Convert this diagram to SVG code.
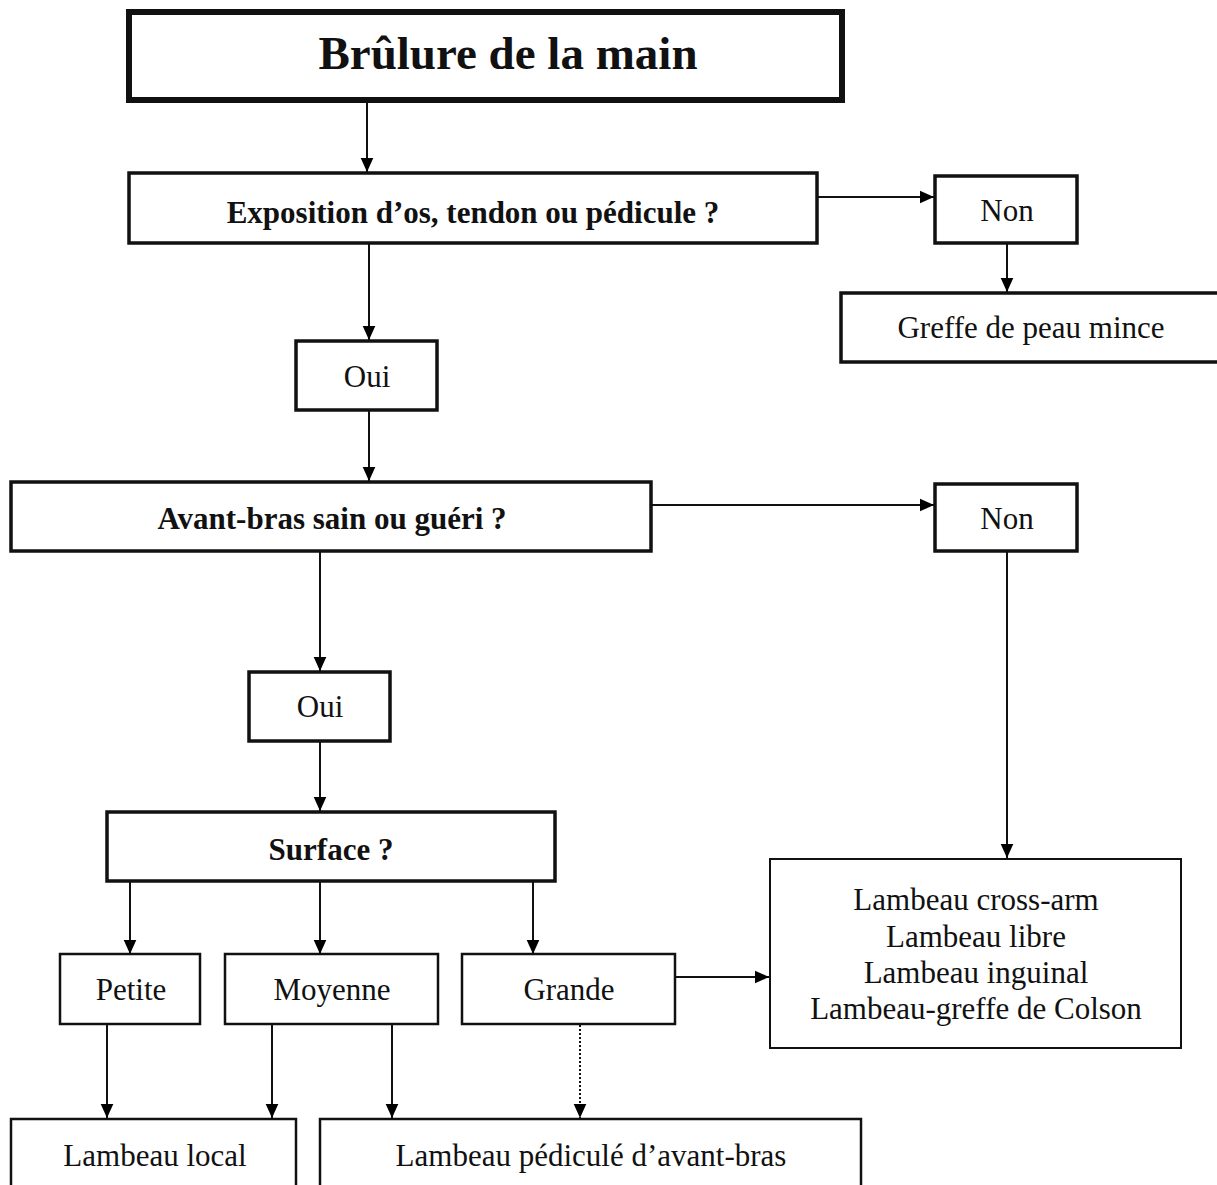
<svg xmlns="http://www.w3.org/2000/svg" width="1217" height="1185" viewBox="0 0 1217 1185">
<defs>
<marker id="ah" viewBox="0 0 10 10" refX="10" refY="5" markerWidth="14" markerHeight="14" markerUnits="userSpaceOnUse" orient="auto">
<path d="M0,0.5 L10,5 L0,9.5 Z" fill="#000"/>
</marker>
<style>
.box{fill:#fff;stroke:#111;stroke-width:2.5}
.b3{stroke-width:3.5}
.b5{stroke-width:6}
.b2{stroke-width:2}
.t{font-family:"Liberation Serif","Times New Roman",serif;font-size:31px;fill:#111;text-anchor:middle}
.tb{font-family:"Liberation Serif","Times New Roman",serif;font-size:31px;font-weight:bold;fill:#111;text-anchor:middle}
.ln{fill:none;stroke:#111;stroke-width:2}
.dot{fill:none;stroke:#111;stroke-width:2;stroke-dasharray:2 2}
</style>
</defs>
<rect width="1217" height="1185" fill="#fff"/>
<g id="connectors">
<line class="ln" x1="367" y1="102" x2="367" y2="172" marker-end="url(#ah)"/>
<line class="ln" x1="818" y1="197" x2="934" y2="197" marker-end="url(#ah)"/>
<line class="ln" x1="1007" y1="243" x2="1007" y2="292" marker-end="url(#ah)"/>
<line class="ln" x1="369" y1="243" x2="369" y2="340" marker-end="url(#ah)"/>
<line class="ln" x1="369" y1="410" x2="369" y2="481" marker-end="url(#ah)"/>
<line class="ln" x1="652" y1="505" x2="934" y2="505" marker-end="url(#ah)"/>
<line class="ln" x1="1007" y1="551" x2="1007" y2="858" marker-end="url(#ah)"/>
<line class="ln" x1="320" y1="551" x2="320" y2="671" marker-end="url(#ah)"/>
<line class="ln" x1="320" y1="741" x2="320" y2="811" marker-end="url(#ah)"/>
<line class="ln" x1="130" y1="881" x2="130" y2="954" marker-end="url(#ah)"/>
<line class="ln" x1="320" y1="881" x2="320" y2="954" marker-end="url(#ah)"/>
<line class="ln" x1="533" y1="881" x2="533" y2="954" marker-end="url(#ah)"/>
<line class="ln" x1="675" y1="977" x2="769" y2="977" marker-end="url(#ah)"/>
<line class="ln" x1="107" y1="1024" x2="107" y2="1118" marker-end="url(#ah)"/>
<line class="ln" x1="272" y1="1024" x2="272" y2="1118" marker-end="url(#ah)"/>
<line class="ln" x1="392" y1="1024" x2="392" y2="1118" marker-end="url(#ah)"/>
<line class="dot" x1="580" y1="1025" x2="580" y2="1118" marker-end="url(#ah)"/>
</g>
<g id="n-brulure">
<rect class="box b5" x="129" y="12" width="713" height="88"/>
<text class="tb" x="508" y="69" style="font-size:47px">Brûlure de la main</text>
</g>
<g id="n-exposition">
<rect class="box b3" x="129" y="173" width="688" height="70"/>
<text class="tb" x="473" y="223">Exposition d’os, tendon ou  pédicule ?</text>
</g>
<g id="n-non1">
<rect class="box b3" x="935" y="176" width="142" height="67"/>
<text class="t" x="1007" y="221">Non</text>
</g>
<g id="n-greffe">
<rect class="box b3" x="841" y="293" width="380" height="69"/>
<text class="t" x="1031" y="338">Greffe de peau mince</text>
</g>
<g id="n-oui1">
<rect class="box b3" x="296" y="341" width="141" height="69"/>
<text class="t" x="367" y="387">Oui</text>
</g>
<g id="n-avantbras">
<rect class="box b3" x="11" y="482" width="640" height="69"/>
<text class="tb" x="332" y="529">Avant-bras sain ou guéri ?</text>
</g>
<g id="n-non2">
<rect class="box b3" x="935" y="484" width="142" height="67"/>
<text class="t" x="1007" y="529">Non</text>
</g>
<g id="n-oui2">
<rect class="box b3" x="249" y="672" width="141" height="69"/>
<text class="t" x="320" y="717">Oui</text>
</g>
<g id="n-surface">
<rect class="box b3" x="107" y="812" width="448" height="69"/>
<text class="tb" x="331" y="860">Surface ?</text>
</g>
<g id="n-petite">
<rect class="box" x="60" y="954" width="140" height="70"/>
<text class="t" x="131" y="1000">Petite</text>
</g>
<g id="n-moyenne">
<rect class="box" x="225" y="954" width="213" height="70"/>
<text class="t" x="332" y="1000">Moyenne</text>
</g>
<g id="n-grande">
<rect class="box" x="462" y="954" width="213" height="70"/>
<text class="t" x="569" y="1000">Grande</text>
</g>
<g id="n-lambeaux">
<rect class="box b2" x="770" y="859" width="411" height="189"/>
<text class="t" x="976" y="910">Lambeau cross-arm</text>
<text class="t" x="976" y="947">Lambeau libre</text>
<text class="t" x="976" y="983">Lambeau inguinal</text>
<text class="t" x="976" y="1019">Lambeau-greffe de Colson</text>
</g>
<g id="n-local">
<rect class="box" x="11" y="1119" width="285" height="80"/>
<text class="t" x="155" y="1166">Lambeau local</text>
</g>
<g id="n-pedicule">
<rect class="box" x="320" y="1119" width="541" height="80"/>
<text class="t" x="591" y="1166">Lambeau pédiculé d’avant-bras</text>
</g>
</svg>
